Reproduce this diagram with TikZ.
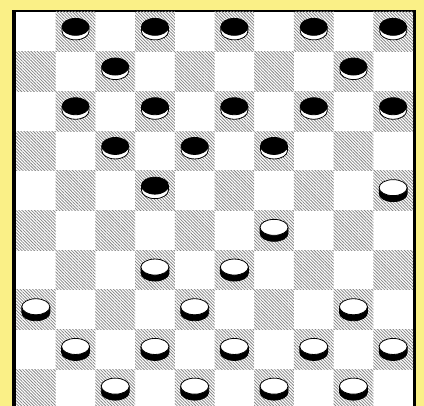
\documentclass[tikz,border=0pt]{standalone}
\usetikzlibrary{patterns.meta}
\definecolor{bgyellow}{RGB}{250,240,135}
\definecolor{hatch}{RGB}{135,135,135}
\tikzset{
  darksq/.style={pattern={Lines[angle=-45,distance=2.2pt,line width=0.8pt]},pattern color=hatch},
}
% #1,#2 centre of square; top face at y-5, side 4.5 deep
\newcommand{\blackman}[2]{%
  \begin{scope}[shift={({#1},{#2})}]
    \filldraw[fill=white,draw=black,line width=0.8pt] (-13.5,-5) -- (-13.5,-0.5) arc[start angle=180,end angle=0,x radius=13.5,y radius=8.5] -- (13.5,-5) -- cycle;
    \filldraw[fill=black,draw=black,line width=0.8pt] (0,-5) ellipse[x radius=13.5,y radius=8.5];
  \end{scope}}
\newcommand{\whiteman}[2]{%
  \begin{scope}[shift={({#1},{#2})}]
    \filldraw[fill=black,draw=black,line width=0.8pt] (-14,-3) -- (-14,3) arc[start angle=180,end angle=0,x radius=14,y radius=8] -- (14,-3) -- cycle;
    \filldraw[fill=white,draw=black,line width=0.8pt] (0,-3) ellipse[x radius=14,y radius=8];
  \end{scope}}
\begin{document}
\begin{tikzpicture}[x=1pt,y=-1pt]
\useasboundingbox (0,0) rectangle (424,406);
\begin{scope}
\clip (0,0) rectangle (424,406);
\fill[bgyellow] (0,0) rectangle (424,406);
\fill[black] (12,10) rectangle (416,420);
\fill[white] (16,12) rectangle (413,420);
\foreach \r in {0,...,9}{
  \foreach \c in {0,...,9}{
    \pgfmathtruncatemacro\p{mod(\r+\c,2)}
    \ifnum\p=1
      \fill[darksq] ({16+\c*39.7},{12+\r*39.7}) rectangle ({16+(\c+1)*39.7},{12+(\r+1)*39.7});
    \fi
  }
}
% black men: (column, row), 1-indexed from top-left
\foreach \c/\r in {2/1,4/1,6/1,8/1,10/1, 3/2,9/2, 2/3,4/3,6/3,8/3,10/3, 3/4,5/4,7/4, 4/5}{
  \pgfmathsetmacro\px{16+(\c-0.5)*39.7}
  \pgfmathsetmacro\py{12+(\r-0.5)*39.7}
  \blackman{\px}{\py}
}
% white men
\foreach \c/\r in {10/5, 7/6, 4/7,6/7, 1/8,5/8,9/8, 2/9,4/9,6/9,8/9,10/9, 3/10,5/10,7/10,9/10}{
  \pgfmathsetmacro\px{16+(\c-0.5)*39.7}
  \pgfmathsetmacro\py{12+(\r-0.5)*39.7}
  \whiteman{\px}{\py}
}
\end{scope}
\end{tikzpicture}
\end{document}
